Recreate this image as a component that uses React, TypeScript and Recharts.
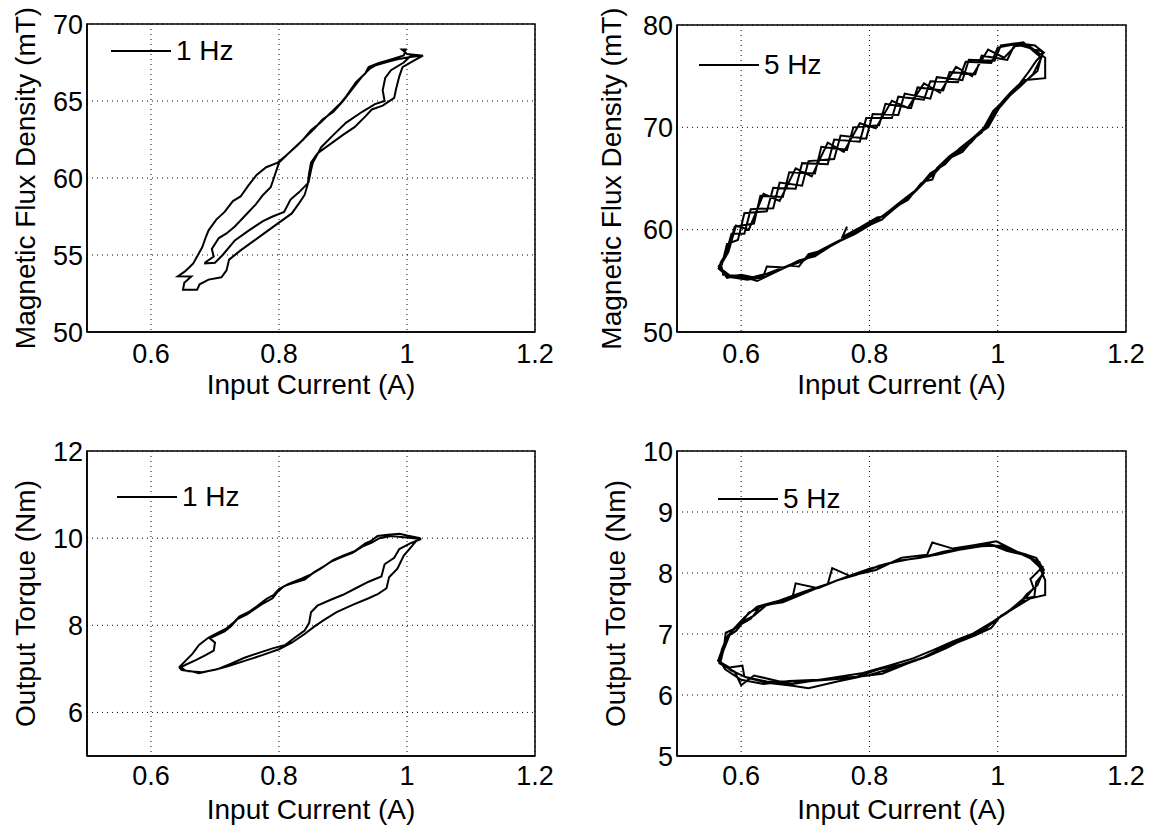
import React from 'react';
import { LineChart, Line, XAxis, YAxis, CartesianGrid, ReferenceArea, Legend } from 'recharts';

type Pt = [number, number];

const FONT = '"Liberation Sans", Arial, Helvetica, sans-serif';

// axis ticks
const currentTicks = [0.6, 0.8, 1, 1.2];
const fluxTicks1Hz = [50, 55, 60, 65, 70];
const fluxTicks5Hz = [50, 60, 70, 80];
const torqueTicks1Hz = [6, 8, 10, 12];
const torqueTicks5Hz = [5, 6, 7, 8, 9, 10];

// input current (A) vs magnetic flux density (mT), 1 Hz, two cycles
const flux1HzPoints: Pt[] = [
  [0.683, 54.45], [0.700, 54.5],
  [0.712, 55.0], [0.731, 55.95], [0.753, 56.6], [0.775, 57.2], [0.790, 57.5], [0.808, 57.8], [0.818, 58.6], [0.832, 59.1],
  [0.846, 59.7], [0.850, 60.5], [0.853, 61.0], [0.866, 62.0], [0.885, 62.8], [0.905, 63.6], [0.930, 64.3], [0.950, 64.8],
  [0.965, 65.0], [0.962, 65.7], [0.966, 66.5], [0.975, 67.0], [0.995, 67.5], [1.005, 67.9], [1.022, 67.95],
  [1.000, 68.05], [0.992, 68.35], [0.998, 68.35], [0.995, 67.95],
  [0.975, 67.7], [0.955, 67.45], [0.940, 67.2], [0.935, 66.8], [0.920, 66.2], [0.905, 65.3], [0.895, 64.8], [0.880, 64.2],
  [0.865, 63.6], [0.850, 63.1], [0.838, 62.5], [0.825, 62.0], [0.812, 61.5], [0.798, 61.0], [0.780, 60.7], [0.765, 60.2],
  [0.752, 59.5], [0.740, 58.8], [0.728, 58.5], [0.715, 57.8], [0.702, 57.3], [0.690, 56.6], [0.686, 56.2], [0.680, 55.5],
  [0.672, 54.9], [0.666, 54.45], [0.660, 54.2], [0.652, 53.9], [0.642, 53.62], [0.663, 53.6],
  [0.652, 53.2], [0.650, 52.75], [0.672, 52.75], [0.676, 53.1], [0.690, 53.4], [0.710, 53.55], [0.718, 54.0], [0.722, 54.7],
  [0.740, 55.3], [0.760, 55.9], [0.780, 56.5], [0.800, 57.1], [0.820, 57.7], [0.832, 58.4], [0.840, 58.9], [0.845, 59.6],
  [0.847, 60.3], [0.850, 61.0], [0.860, 61.6], [0.880, 62.2], [0.900, 62.8], [0.918, 63.3], [0.935, 64.0], [0.945, 64.45],
  [0.962, 64.7], [0.980, 65.2], [0.983, 65.8], [0.988, 66.6], [0.993, 67.2], [1.010, 67.6], [1.025, 67.95],
  [1.005, 67.85], [0.990, 67.75],
  [0.970, 67.55], [0.950, 67.3], [0.942, 67.1], [0.930, 66.6], [0.915, 65.8], [0.900, 65.0], [0.885, 64.3], [0.868, 63.8],
  [0.855, 63.2], [0.840, 62.6], [0.828, 62.1], [0.815, 61.6], [0.800, 61.0], [0.792, 60.0], [0.787, 59.4], [0.775, 58.9],
  [0.764, 58.3], [0.748, 57.6], [0.731, 56.85], [0.718, 56.4], [0.706, 56.1], [0.695, 55.4], [0.698, 54.9], [0.684, 54.5],
];

// input current (A) vs magnetic flux density (mT), 5 Hz, four cycles (coarsely sampled)
const flux5HzPoints: Pt[] = [
  [0.765, 60.3], [0.758, 59.3],
  [0.785, 60.2], [0.812, 61.2], [0.825, 61.3], [0.838, 62.0], [0.862, 63.2], [0.884, 64.7], [0.898, 64.9], [0.905, 66.0],
  [0.925, 67.2], [0.950, 68.3], [0.975, 69.5], [0.990, 71.0], [1.012, 72.6], [1.030, 73.9], [1.048, 75.4], [1.060, 76.5],
  [1.072, 77.3], [1.058, 78.0],
  [1.035, 78.2], [1.000, 77.8], [0.990, 76.3], [0.950, 76.4], [0.938, 74.4], [0.895, 74.5], [0.885, 72.7], [0.845, 73.0],
  [0.835, 70.9], [0.795, 70.9], [0.785, 68.6], [0.745, 68.8], [0.735, 66.4], [0.695, 66.5], [0.685, 64.0], [0.650, 64.1],
  [0.640, 61.8], [0.605, 61.6], [0.595, 59.0], [0.578, 58.6], [0.570, 56.6], [0.565, 56.2],
  [0.580, 55.4], [0.610, 55.1], [0.635, 55.5], [0.640, 56.4], [0.668, 56.3], [0.695, 56.9], [0.720, 57.8], [0.748, 58.7],
  [0.778, 59.6], [0.805, 60.6], [0.830, 61.8], [0.852, 62.9], [0.875, 64.0], [0.895, 65.5], [0.918, 66.4], [0.940, 67.9],
  [0.962, 69.0], [0.985, 70.3], [1.000, 72.0], [1.020, 73.4], [1.040, 74.6], [1.074, 74.8], [1.074, 76.8], [1.050, 77.9],
  [1.045, 78.1], [1.025, 77.9], [1.015, 76.6], [0.975, 77.0], [0.965, 75.2], [0.925, 75.4], [0.915, 73.6], [0.875, 73.9],
  [0.865, 71.9], [0.825, 72.3], [0.815, 70.2], [0.775, 70.0], [0.765, 67.8], [0.725, 68.1], [0.715, 65.5], [0.675, 65.6],
  [0.665, 63.2], [0.630, 63.3], [0.620, 60.6], [0.590, 60.3], [0.580, 58.0], [0.568, 56.8],
  [0.572, 55.6], [0.598, 55.5], [0.625, 55.0], [0.652, 55.8], [0.675, 56.5], [0.690, 56.4], [0.705, 57.6], [0.728, 58.0],
  [0.752, 58.8], [0.775, 59.8], [0.800, 60.6], [0.822, 61.4], [0.848, 62.5], [0.868, 63.5], [0.890, 64.9], [0.910, 66.2],
  [0.935, 67.4], [0.958, 68.5], [0.978, 69.9], [0.993, 71.6], [1.015, 72.9], [1.035, 74.0], [1.055, 75.2], [1.068, 76.8],
  [1.040, 78.3], [1.005, 78.0], [0.995, 76.5], [0.955, 76.6], [0.945, 74.6], [0.905, 74.9], [0.895, 72.8], [0.855, 73.3],
  [0.845, 71.2], [0.805, 71.3], [0.795, 68.9], [0.755, 69.2], [0.745, 66.9], [0.705, 66.7], [0.695, 64.3], [0.660, 64.6],
  [0.650, 62.1], [0.615, 62.0], [0.605, 59.6], [0.585, 59.6], [0.575, 57.4], [0.565, 56.4],
  [0.578, 55.3], [0.600, 55.6], [0.630, 55.2], [0.662, 56.1], [0.690, 57.0], [0.715, 57.4], [0.745, 58.6], [0.770, 59.5],
  [0.795, 60.3], [0.820, 61.0], [0.840, 62.2], [0.860, 62.9], [0.880, 64.5], [0.900, 65.4], [0.922, 66.9], [0.945, 67.6],
  [0.968, 69.3], [0.985, 70.0], [1.005, 72.2], [1.025, 73.5], [1.045, 74.6], [1.062, 75.5], [1.070, 77.4],
  [1.030, 78.1], [1.010, 76.8], [0.985, 77.6], [0.960, 75.0], [0.935, 75.9], [0.910, 73.4], [0.885, 74.3], [0.860, 71.9],
  [0.835, 72.6], [0.810, 69.9], [0.785, 70.4], [0.760, 67.6], [0.735, 68.5], [0.710, 65.2], [0.685, 66.0], [0.660, 62.8],
  [0.635, 63.5], [0.612, 60.0], [0.592, 60.4], [0.580, 57.8], [0.566, 56.3],
  [0.585, 55.4], [0.615, 55.3], [0.640, 55.7], [0.670, 56.4], [0.700, 57.2], [0.730, 58.2], [0.755, 59.0],
];

// input current (A) vs output torque (Nm), 1 Hz, two cycles
const torque1HzPoints: Pt[] = [
  [1.021, 10.0], [1.000, 10.06], [0.988, 10.1], [0.970, 10.08], [0.954, 10.05], [0.943, 9.93], [0.935, 9.88], [0.918, 9.7],
  [0.900, 9.6], [0.885, 9.5], [0.870, 9.35], [0.855, 9.22], [0.840, 9.05], [0.822, 8.97], [0.808, 8.9], [0.798, 8.77],
  [0.790, 8.62], [0.775, 8.5], [0.760, 8.35], [0.750, 8.25], [0.735, 8.14], [0.725, 7.98], [0.715, 7.86], [0.700, 7.76],
  [0.692, 7.7], [0.700, 7.6], [0.698, 7.42], [0.686, 7.32], [0.670, 7.2], [0.655, 7.1], [0.645, 7.02], [0.648, 6.97],
  [0.665, 6.94], [0.675, 6.9],
  [0.690, 6.95], [0.705, 7.0], [0.725, 7.12], [0.745, 7.25], [0.765, 7.35], [0.790, 7.47], [0.810, 7.55], [0.825, 7.72],
  [0.840, 7.88], [0.847, 8.05], [0.850, 8.3], [0.860, 8.45], [0.880, 8.58], [0.900, 8.7], [0.920, 8.85], [0.940, 9.0],
  [0.960, 9.12], [0.965, 9.4], [0.980, 9.55], [0.988, 9.75], [1.005, 9.88], [1.022, 9.98],
  [0.995, 10.02], [0.975, 10.05], [0.957, 10.0], [0.945, 9.9], [0.932, 9.82], [0.915, 9.66], [0.895, 9.55], [0.880, 9.45],
  [0.865, 9.3], [0.850, 9.17], [0.835, 9.07], [0.815, 8.95], [0.800, 8.83], [0.792, 8.7], [0.780, 8.6], [0.765, 8.43],
  [0.752, 8.3], [0.738, 8.2], [0.728, 8.05], [0.718, 7.93], [0.705, 7.83], [0.690, 7.72], [0.675, 7.55], [0.665, 7.35],
  [0.655, 7.2], [0.645, 7.05],
  [0.655, 6.95], [0.680, 6.92], [0.700, 6.98], [0.720, 7.06], [0.750, 7.2], [0.775, 7.32], [0.800, 7.45], [0.820, 7.6],
  [0.840, 7.8], [0.855, 7.97], [0.870, 8.12], [0.890, 8.3], [0.915, 8.47], [0.940, 8.62], [0.955, 8.72], [0.968, 8.85],
  [0.972, 9.1], [0.985, 9.3], [0.995, 9.6], [1.008, 9.82], [1.015, 9.95],
];

// input current (A) vs output torque (Nm), 5 Hz, four cycles
const torque5HzPoints: Pt[] = [
  [0.565, 6.55], [0.585, 6.40], [0.610, 6.28], [0.640, 6.20], [0.680, 6.15], [0.705, 6.11], [0.750, 6.22], [0.800, 6.33],
  [0.840, 6.45], [0.875, 6.58], [0.905, 6.70], [0.935, 6.85], [0.965, 6.98], [0.990, 7.10], [1.005, 7.30], [1.030, 7.45],
  [1.045, 7.65], [1.062, 7.80], [1.072, 8.05], [1.060, 8.25], [1.030, 8.35], [0.998, 8.52], [0.960, 8.45], [0.930, 8.40],
  [0.898, 8.50], [0.890, 8.30], [0.850, 8.25], [0.810, 8.05], [0.770, 7.95], [0.742, 8.08], [0.735, 7.82], [0.700, 7.70],
  [0.660, 7.55], [0.630, 7.45], [0.615, 7.25], [0.590, 7.10], [0.578, 6.95], [0.570, 6.75],
  [0.566, 6.52], [0.590, 6.38], [0.600, 6.16], [0.620, 6.32], [0.660, 6.22], [0.700, 6.22], [0.760, 6.27], [0.820, 6.35],
  [0.860, 6.52], [0.890, 6.63], [0.920, 6.77], [0.950, 6.93], [0.980, 7.08], [1.000, 7.25], [1.025, 7.42], [1.050, 7.58],
  [1.074, 7.64], [1.074, 7.88], [1.065, 8.10], [1.045, 8.30], [1.020, 8.38], [0.985, 8.48], [0.950, 8.42], [0.915, 8.35],
  [0.880, 8.25], [0.845, 8.20], [0.815, 8.12], [0.780, 7.97], [0.750, 7.88], [0.720, 7.75], [0.685, 7.83], [0.680, 7.60],
  [0.650, 7.52], [0.625, 7.45], [0.605, 7.27], [0.588, 7.08], [0.576, 7.02], [0.574, 6.85],
  [0.564, 6.56], [0.582, 6.45], [0.602, 6.48], [0.605, 6.30], [0.640, 6.22], [0.680, 6.18], [0.740, 6.28], [0.790, 6.36],
  [0.830, 6.48], [0.868, 6.60], [0.900, 6.74], [0.930, 6.88], [0.960, 7.00], [0.992, 7.20], [1.015, 7.35], [1.040, 7.55],
  [1.056, 7.75], [1.051, 7.90], [1.070, 8.10], [1.055, 8.22], [1.035, 8.32], [1.005, 8.45], [0.975, 8.44], [0.940, 8.38],
  [0.905, 8.30], [0.870, 8.24], [0.840, 8.18], [0.800, 8.07], [0.765, 7.94], [0.730, 7.80], [0.700, 7.68], [0.670, 7.55],
  [0.635, 7.46], [0.612, 7.35], [0.600, 7.18], [0.585, 7.04], [0.578, 6.90],
  [0.566, 6.58], [0.575, 6.42], [0.600, 6.25], [0.635, 6.18], [0.675, 6.23], [0.720, 6.25], [0.780, 6.30], [0.815, 6.42],
  [0.850, 6.50], [0.885, 6.62], [0.915, 6.78], [0.945, 6.92], [0.975, 7.05], [0.995, 7.22], [1.020, 7.40], [1.040, 7.58],
  [1.057, 7.61], [1.060, 7.85], [1.072, 8.00], [1.065, 8.18], [1.040, 8.30], [1.015, 8.36], [0.990, 8.46], [0.960, 8.42],
  [0.925, 8.36], [0.895, 8.28], [0.860, 8.22], [0.825, 8.15], [0.790, 8.02], [0.755, 7.90], [0.725, 7.78], [0.695, 7.65],
  [0.665, 7.52], [0.640, 7.48], [0.620, 7.30], [0.605, 7.22], [0.592, 7.05], [0.582, 6.98], [0.572, 6.72], [0.568, 6.55],
];

const toRows = (pts: Pt[]) => pts.map(([current, value]) => ({ current, value }));

interface PanelProps {
  points: Pt[];
  yDomain: [number, number];
  yTicks: number[];
  yLabel: string;
  legend: string;
  left: number;
  top: number;
  width: number;
  height: number;
  marginTop: number;
  marginRight: number;
  xAxisHeight: number;
  xTickMargin: number;
  xLabelOffset: number;
  yLabelOffset: number;
  legendLeft: number;
  legendTop: number;
}

const LegendBox = ({ text }: { text: string }) => (
  <div style={{ display: 'flex', alignItems: 'center', height: 34, fontFamily: FONT, fontSize: 28, color: '#000', whiteSpace: 'nowrap' }}>
    <svg width={60} height={4} style={{ display: 'block' }}>
      <line x1={0} y1={2} x2={60} y2={2} stroke="#000" strokeWidth={2} />
    </svg>
    <span style={{ marginLeft: 5, lineHeight: '34px' }}>{text}</span>
  </div>
);

const Panel: React.FC<PanelProps> = (p) => {
  const tickStyle = { fontSize: 27, fill: '#000', fontFamily: FONT };
  return (
    <div style={{ position: 'absolute', left: p.left, top: p.top }}>
      <LineChart
        width={p.width}
        height={p.height}
        data={toRows(p.points)}
        margin={{ top: p.marginTop, right: p.marginRight, left: 0, bottom: 0 }}
      >
        <CartesianGrid stroke="#000" strokeDasharray="1 4" strokeWidth={1} />
        <XAxis
          type="number"
          dataKey="current"
          domain={[0.5, 1.2]}
          ticks={currentTicks}
          interval={0}
          allowDataOverflow
          height={p.xAxisHeight}
          tick={tickStyle}
          tickLine={false}
          tickSize={0}
          tickMargin={p.xTickMargin}
          axisLine={{ stroke: '#000', strokeWidth: 1.5 }}
          label={{
            value: 'Input Current (A)',
            position: 'insideBottom',
            offset: p.xLabelOffset,
            fill: '#000',
            style: { fontSize: 28, fontFamily: FONT, fill: '#000' },
          }}
        />
        <YAxis
          type="number"
          domain={p.yDomain}
          ticks={p.yTicks}
          interval={0}
          allowDataOverflow
          width={87}
          tick={tickStyle}
          tickLine={false}
          tickSize={0}
          tickMargin={4}
          axisLine={{ stroke: '#000', strokeWidth: 1.5 }}
          label={{
            value: p.yLabel,
            angle: -90,
            position: 'insideLeft',
            offset: p.yLabelOffset,
            fill: '#000',
            style: { fontSize: 28, fontFamily: FONT, fill: '#000', textAnchor: 'middle' },
          }}
        />
        <ReferenceArea
          x1={0.5}
          x2={1.2}
          y1={p.yDomain[0]}
          y2={p.yDomain[1]}
          fill="none"
          fillOpacity={0}
          stroke="#000"
          strokeWidth={1.5}
          ifOverflow="visible"
        />
        <Legend
          layout="horizontal"
          verticalAlign="middle"
          align="center"
          wrapperStyle={{ left: p.legendLeft, top: p.legendTop, width: 'auto', height: 34 }}
          content={() => <LegendBox text={p.legend} />}
        />
        <Line
          type="linear"
          dataKey="value"
          name={p.legend}
          stroke="#000"
          strokeWidth={2}
          dot={false}
          activeDot={false}
          isAnimationActive={false}
        />
      </LineChart>
    </div>
  );
};

export default function App() {
  return (
    <div style={{ position: 'absolute', left: 0, top: 0, width: 1155, height: 825, background: '#fff', overflow: 'hidden' }}>
      <Panel
        points={flux1HzPoints} yDomain={[50, 70]} yTicks={fluxTicks1Hz}
        yLabel="Magnetic Flux Density (mT)" legend="1 Hz"
        left={0} top={0} width={560} height={410} marginTop={24} marginRight={25}
        xAxisHeight={78} xTickMargin={12} xLabelOffset={16} yLabelOffset={25}
        legendLeft={111} legendTop={34}
      />
      <Panel
        points={flux5HzPoints} yDomain={[50, 80]} yTicks={fluxTicks5Hz}
        yLabel="Magnetic Flux Density (mT)" legend="5 Hz"
        left={590} top={0} width={565} height={410} marginTop={25} marginRight={29}
        xAxisHeight={78} xTickMargin={12} xLabelOffset={16} yLabelOffset={21}
        legendLeft={109} legendTop={48}
      />
      <Panel
        points={torque1HzPoints} yDomain={[5, 12]} yTicks={torqueTicks1Hz}
        yLabel="Output Torque (Nm)" legend="1 Hz"
        left={0} top={400} width={560} height={425} marginTop={51} marginRight={25}
        xAxisHeight={69} xTickMargin={10} xLabelOffset={6} yLabelOffset={25}
        legendLeft={117} legendTop={80}
      />
      <Panel
        points={torque5HzPoints} yDomain={[5, 10]} yTicks={torqueTicks5Hz}
        yLabel="Output Torque (Nm)" legend="5 Hz"
        left={590} top={400} width={565} height={425} marginTop={51} marginRight={29}
        xAxisHeight={69} xTickMargin={10} xLabelOffset={6} yLabelOffset={25}
        legendLeft={128} legendTop={82}
      />
    </div>
  );
}
